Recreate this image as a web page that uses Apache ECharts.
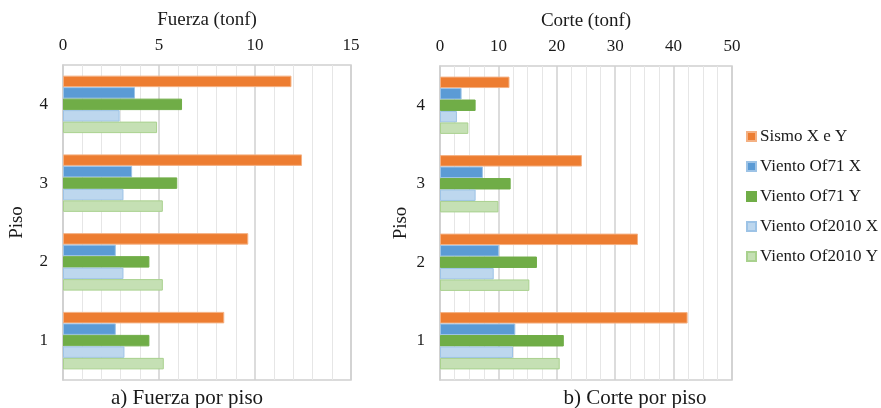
<!DOCTYPE html>
<html>
<head>
<meta charset="utf-8">
<script src="https://cdn.jsdelivr.net/npm/echarts@6/dist/echarts.min.js"></script>
<style>html,body{margin:0;padding:0;background:#fff}#c{width:881px;height:408px}</style>
</head>
<body>
<div id="c"></div>
<script>
const pisos = ['4', '3', '2', '1'];
const seriesNames = ['Sismo X e Y', 'Viento Of71 X', 'Viento Of71 Y', 'Viento Of2010 X', 'Viento Of2010 Y'];
// Fuerza (tonf) per floor, order matches pisos
const fuerzaSismo = [11.9, 12.45, 9.65, 8.4];
const fuerzaOf71X = [3.75, 3.6, 2.75, 2.75];
const fuerzaOf71Y = [6.2, 5.95, 4.5, 4.5];
const fuerzaOf2010X = [2.95, 3.15, 3.15, 3.2];
const fuerzaOf2010Y = [4.9, 5.2, 5.2, 5.25];
// Corte (tonf) per floor
const corteSismo = [11.9, 24.3, 33.9, 42.4];
const corteOf71X = [3.7, 7.35, 10.1, 12.9];
const corteOf71Y = [6.1, 12.1, 16.6, 21.2];
const corteOf2010X = [2.9, 6.1, 9.2, 12.5];
const corteOf2010Y = [4.85, 10.0, 15.3, 20.5];
const fuerzaTicks = [0, 15, 5];
const corteTicks = [0, 50, 10];

const colors = ['#ED7D31', '#5B9BD5', '#70AD47', '#BDD7EE', '#C5E0B4'];
const borders = ['#F4B183', '#9DC3E6', '#70AD47', '#9DC3E6', '#A9D18E'];
const font = 'Liberation Serif';
const txt = '#1a1a1a';

function mkSeries(data, idx, axisIdx) {
  return {
    name: seriesNames[idx], type: 'bar', data: data,
    xAxisIndex: axisIdx, yAxisIndex: axisIdx,
    barGap: '0%', barCategoryGap: '27%',
    itemStyle: { color: colors[idx], borderColor: borders[idx], borderWidth: 1 },
    emphasis: { disabled: true }
  };
}
function mkX(ticks, gridIndex, name, minorSplit) {
  return {
    type: 'value', gridIndex: gridIndex, position: 'top',
    min: ticks[0], max: ticks[1], interval: ticks[2],
    name: name, nameLocation: 'middle', nameGap: 35,
    nameTextStyle: { fontFamily: font, fontSize: 19, color: txt },
    axisLine: { show: false }, axisTick: { show: false },
    axisLabel: { fontFamily: font, fontSize: 17, color: txt, margin: 11 },
    splitLine: { show: true, lineStyle: { color: '#d0d0d0', width: 1.5 } },
    minorTick: { show: false, splitNumber: minorSplit },
    minorSplitLine: { show: true, lineStyle: { color: '#e6e6e6', width: 1 } }
  };
}
function mkY(gridIndex, nameGap) {
  return {
    type: 'category', gridIndex: gridIndex, data: pisos, inverse: true,
    name: 'Piso', nameLocation: 'middle', nameGap: nameGap,
    nameTextStyle: { fontFamily: font, fontSize: 19, color: txt },
    axisLine: { show: true, lineStyle: { color: '#d0d0d0', width: 1.5 } },
    axisTick: { show: false },
    axisLabel: { fontFamily: font, fontSize: 17, color: txt, margin: 15 }
  };
}

const chart = echarts.init(document.getElementById('c'));
chart.setOption({
  animation: false,
  backgroundColor: '#fff',
  grid: [
    { left: 63, right: 530, top: 65, bottom: 28, show: true, borderColor: '#d0d0d0', borderWidth: 1.5 },
    { left: 440, right: 149, top: 66, bottom: 28, show: true, borderColor: '#d0d0d0', borderWidth: 1.5 }
  ],
  xAxis: [mkX(fuerzaTicks, 0, 'Fuerza (tonf)', 5), mkX(corteTicks, 1, 'Corte (tonf)', 4)],
  yAxis: [mkY(0, 36), mkY(1, 29)],
  legend: {
    data: seriesNames, orient: 'vertical', left: 741, top: 123,
    itemWidth: 9, itemHeight: 9, itemGap: 13, icon: 'rect',
    textStyle: { fontFamily: font, fontSize: 17, color: txt, padding: [0, 0, 0, -1] }
  },
  graphic: [
    { type: 'text', x: 187, y: 398, style: { text: 'a) Fuerza por piso', font: '21px "Liberation Serif"', fill: txt, textAlign: 'center', textVerticalAlign: 'middle' } },
    { type: 'text', x: 635, y: 398, style: { text: 'b) Corte por piso', font: '21px "Liberation Serif"', fill: txt, textAlign: 'center', textVerticalAlign: 'middle' } }
  ],
  series: [
    mkSeries(fuerzaSismo, 0, 0), mkSeries(fuerzaOf71X, 1, 0), mkSeries(fuerzaOf71Y, 2, 0),
    mkSeries(fuerzaOf2010X, 3, 0), mkSeries(fuerzaOf2010Y, 4, 0),
    mkSeries(corteSismo, 0, 1), mkSeries(corteOf71X, 1, 1), mkSeries(corteOf71Y, 2, 1),
    mkSeries(corteOf2010X, 3, 1), mkSeries(corteOf2010Y, 4, 1)
  ]
});
</script>
</body>
</html>
